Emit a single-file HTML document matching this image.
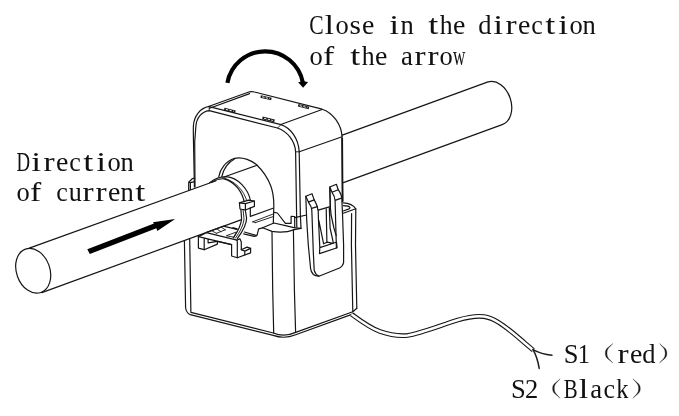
<!DOCTYPE html>
<html>
<head>
<meta charset="utf-8">
<title>CT installation</title>
<style>
html,body{margin:0;padding:0;background:#fff;}
body{width:679px;height:416px;overflow:hidden;font-family:"Liberation Serif",serif;}
svg{display:block;position:absolute;left:0;top:0;}
.l{fill:none;stroke:#151515;stroke-width:1.2;stroke-linecap:round;stroke-linejoin:round;}
.t{fill:none;stroke:#151515;stroke-width:0.9;stroke-linecap:round;stroke-linejoin:round;}
.w{fill:#fff;stroke:#151515;stroke-width:1.2;stroke-linejoin:round;}
.k{fill:#000;stroke:none;}
text{font-family:"Liberation Serif",serif;fill:#111;}
</style>
</head>
<body>
<svg width="679" height="416" viewBox="0 0 679 416">
<rect x="0" y="0" width="679" height="416" fill="#fff"/>

<!-- ===== right conductor ===== -->
<g id="rcyl">
<path class="l" d="M342.3,135.1 L488,81.9 A16,22.5 -18.4 0 1 502.2,124.6 L343.4,182.6"/>
</g>

<!-- ===== left conductor ===== -->
<g id="lcyl">
<ellipse class="l" cx="33.2" cy="270.8" rx="16.7" ry="23" transform="rotate(-19.7 33.2 270.8)"/>
<path class="l" d="M29.3,248.1 L216,180.8"/>
<path class="l" d="M224,177 L257.1,165.3"/>
<path class="l" d="M41.8,292.6 L240.9,219.9"/>
<path class="l" d="M250.3,216.4 L273,208.2"/>
</g>

<!-- ===== upper housing ===== -->
<g id="housing">
<!-- front face outer -->
<path class="l" d="M194.4,187 L193.5,142 L193.3,130 L193.4,126 C194,116 200,108 209.2,106.4"/>
<path class="l" d="M209.2,106.6 L281,124.6 C291,128 298.6,139 299.2,151.8 L300.4,216 L301,228.3"/>
<!-- front face inner (bevel) -->
<path class="l" d="M195.0,187 L194.7,142 L195.6,130 L195.9,126 C196.6,118 201.5,111.5 209.2,110.6 L277.4,128 C287.5,131.5 295,141 295.6,151.8 L296.8,227"/>
<path class="t" d="M209.2,106.8 L209.2,110.8 M295.6,151.8 L299.2,151.8 M281,124.6 L277.6,128"/>
<!-- top face -->
<path class="l" d="M209.2,106.3 L249.5,91.8 Q252,91.2 254.5,92 L322.1,109.2 C332.5,112.5 341.4,124 342.1,137 L342.5,189 L342.6,201.8"/>
<path d="M342.15,138 L342.5,189 L342.6,201.6" fill="none" stroke="#151515" stroke-width="1.8"/>
<path class="l" d="M209.6,108.3 L249.6,93.6"/>
<path class="l" d="M281.5,124.3 L322.1,109.5"/>
<path class="l" d="M299.3,151.7 L342.1,136.8"/>
<!-- slot marks on the top -->
<path d="M260.6,96.5 L271.4,99.0" fill="none" stroke="#1a1a1a" stroke-width="2.7"/><path d="M262.1,96.8 L269.9,98.7" fill="none" stroke="#fff" stroke-width="0.9" stroke-dasharray="2.4 1.3"/>
<path d="M298.2,105.3 L309.0,108.0" fill="none" stroke="#1a1a1a" stroke-width="2.7"/><path d="M299.7,105.7 L307.5,107.6" fill="none" stroke="#fff" stroke-width="0.9" stroke-dasharray="2.4 1.3"/>
<path d="M224.2,109.0 L235.4,111.7" fill="none" stroke="#1a1a1a" stroke-width="2.7"/><path d="M225.8,109.4 L233.8,111.3" fill="none" stroke="#fff" stroke-width="0.9" stroke-dasharray="2.4 1.3"/>
<path d="M262.4,117.9 L274.5,120.9" fill="none" stroke="#1a1a1a" stroke-width="2.7"/><path d="M264.1,118.3 L272.8,120.5" fill="none" stroke="#fff" stroke-width="0.9" stroke-dasharray="2.4 1.3"/>
<!-- small tab on the left -->
<path class="l" d="M188.7,190.2 L188.7,182.2 L192.5,178.5 L194.6,178.2 M188.7,182.2 L190.4,182.7 L194.6,181.7 M190.4,182.7 L190.4,189.5"/>
</g>

<!-- ===== hole ===== -->
<g id="hole">
<path class="l" d="M218.8,176.6 C220,169 225.5,161.5 234.7,158.3 C243,156.6 252,160.6 257.1,165.3 C263,171 268.5,180 270.8,186 C273,192 274,198 273.8,207 L273.3,223"/>
<path class="l" d="M221.8,176.6 C223.6,169 228,162.4 234.5,159"/>
</g>

<!-- ===== cable tie ===== -->
<g id="tie">
<path class="l" d="M209.6,182.6 C214,179.2 220,176.6 226,176.6 C238,177.4 248.3,189 250.6,201"/>
<path class="l" d="M211.8,182.3 C215.5,180 220,178.5 224,178.8 C234.5,181.6 242.5,191.5 244.6,203.6"/>
<path class="t" d="M222,177.6 C234,180 244.6,190 247.2,202.6"/>
<!-- head -->
<path class="w" d="M239.4,202.8 L248.6,200.1 L254.4,201 L254.4,206.4 L245.4,210 L240,209 Z"/>
<path class="l" d="M239.4,202.8 L245.4,203.6 L254.4,201 M245.4,203.6 L245.4,210"/>
<!-- tail -->
<path class="l" d="M240.9,209.5 L241.6,219 C241,225 237.5,232 233.3,237.8"/>
<path class="l" d="M245.2,209.3 L246.6,218 C246.6,224 243,231 237.3,238.7"/>
<path class="l" d="M250.3,207.8 L250.3,215.8"/>
<path class="t" d="M243,209.4 L244,218.5 C243.6,225 240,232 235.3,238.2"/>
</g>

<!-- ===== lower base ===== -->
<g id="base">
<!-- left edges -->
<path class="l" d="M184.4,240.6 L185.6,307.7 Q186.2,312.6 190.3,314.7 L273.3,335.4 Q284,339.4 295.7,334.8 L353.9,313.6"/>
<path class="l" d="M189.7,238.7 L190.9,312.4 L273.3,333 Q284,337.6 295.7,332.4 L352.8,311.8 L356.9,308.3"/>
<!-- front corner verticals -->
<path class="l" d="M272,231.8 L272.7,290 L273.7,333"/>
<path class="l" d="M293.4,229.6 L294.4,290 L295.6,332.4"/>
<!-- back right verticals -->
<path class="l" d="M351.6,213.5 L351.4,245 L352.8,311.6"/>
<path class="l" d="M355.8,208.8 L355.5,245 L356.8,308.3"/>
<!-- top-right rounded shelf -->
<path class="l" d="M343.3,202.9 C348.5,203.2 353.6,205.4 355.8,208.8 L343.3,213.2"/>
<path class="l" d="M343.3,205.6 C347,205.6 349.6,206.6 350,207.6 Q350,208.5 349,208.9 L343.3,211"/>
<!-- shelf around the hole -->
<path class="l" d="M273.9,212.4 L277.4,213 L285.4,223.3 L291.1,223.4 L291.1,216.4 L294.7,216.5 L294.7,227.6"/>
<path class="l" d="M294.7,217.6 L306.7,215"/>
<path class="l" d="M262.6,227.8 L273.9,223 L285.5,225.6 L293.9,227.6 L301,228.3"/>
<path class="l" d="M262.6,227.8 L272,231.4 Q284,233.6 294.5,229.6 L301,228.3"/>
<!-- slot in the shelf -->
<path class="t" d="M252.7,221.8 L272.7,214.2 M255.4,222.6 L273.2,216.6 M252.7,221.8 L255.4,222.6"/>
<!-- shelf left of the tie -->
<path class="l" d="M206.7,232.4 L223.1,226.2 L237.3,229.3"/>
<path class="t" d="M216.4,233.3 L225.3,229.8 M212.4,231.1 L216.4,233.3 M217.3,229.3 L220.9,231.6 M221.8,227.6 L225.3,229.8"/>
<path d="M232.4,227.8 L237.3,229" fill="none" stroke="#151515" stroke-width="1.7"/>
<path class="t" d="M226.7,235.6 L236.4,232 L234.2,236.9 Z"/>
<path class="l" d="M244.4,232 L256.9,235.6 M243.6,233.8 L254.2,236.4 L256.9,235.6 L258.7,228.9 L262.6,227.8"/>
<!-- hook bracket -->
<path class="w" d="M198.4,236.6 L206.4,232.6 L236.9,240.1 L239.9,238.8 L241.3,241.9 L241.3,249.8 L247,247.1 L250.6,248.4 L250.6,252.9 L237.3,257.7 L231.6,256 L231.6,244.6 L217.4,241.3 L217.4,244.1 L204.2,249.7 L198.4,248.1 Z"/>
<path class="l" d="M198.4,236.6 L231.6,244.6 M204.2,238.1 L204.2,249.7 M208.1,239.2 L208.1,242.8 L217.4,241.3 M237.3,257.7 L237.3,241.6 L236.9,240.1 M241.3,249.8 L244.8,251.1 L250.6,248.4 M244.8,251.1 L244.8,254.8"/>
</g>

<!-- ===== clip ===== -->
<g id="clip">
<!-- outer -->
<path class="w" d="M305.8,196.3 L312,193.7 L314.2,199.9 C316,203 317.6,206 317.8,209.7 L318.2,210.2 L330.3,206.6 L329.8,187 L336.4,184.3 L338.2,189.7 C340.4,193 341.6,195 341.8,198.1 L342.5,213.5 L343.6,245 L343.6,262.7 Q342.6,266.6 339.5,268 L318.9,276.2 C314,276 311.2,273 310.6,268.6 L308.3,245 L306.7,220 Z"/>
<!-- left prong details -->
<path class="l" d="M305.8,196.3 L308.4,202.1 L314.2,199.9 M308.4,202.1 C310.2,204.6 311.6,207.4 311.8,210 L312,215 L313.3,252 L314.2,270.3 Q315.5,274.6 318.9,276.2 M311.6,208.4 L317.4,206.7"/>
<!-- right prong details -->
<path class="l" d="M329.8,187 L332,192.3 L338.2,189.7 M332,192.3 C334,195 335,197.6 335.1,200.8 L335.6,220 L336.4,247.9 M335.1,200.4 L341.4,198.1 M329.8,187 L330.3,206.6"/>
<!-- window -->
<path class="l" d="M318.2,210.2 L318.4,218 L319.8,247.4 L319.5,253.6 L337.1,247.7 L336.5,242.2 M319.8,247.6 L336.3,242.2 M318.8,220.3 L323.6,243.8 L327,242.2 L333.3,243.3 L336.2,242.2"/>
<path class="l" d="M326.2,208.8 L326.9,242.1 M329.3,207.9 L330.1,228 L333.3,242.7 M330.3,206.6 L331.1,215 L333.9,228 L336.2,235.7"/>
</g>

<!-- ===== wire ===== -->
<g id="wire">
<path d="M351.5,314.2 C358,319 370,328 380,331.5 C390,335 399,336.2 407.6,335.4 C420,333.6 440,325.6 457.8,320 C468,317 477,315.6 484,316.6 C494,318 503,325 512,332.2 C520,338.7 527,345 533.3,350.2" fill="none" stroke="#151515" stroke-width="4.7" stroke-linecap="butt"/>
<path d="M351.5,314.2 C358,319 370,328 380,331.5 C390,335 399,336.2 407.6,335.4 C420,333.6 440,325.6 457.8,320 C468,317 477,315.6 484,316.6 C494,318 503,325 512,332.2 C520,338.7 527,345 533.3,350.2" fill="none" stroke="#fff" stroke-width="2.5" stroke-linecap="butt"/>
<path d="M533,349.6 C538,352.4 545,354.6 552,355.2" fill="none" stroke="#1c1c1c" stroke-width="1.5" stroke-linecap="round"/>
<path d="M533,349.6 C535.6,354 538,361 539.2,368.4" fill="none" stroke="#1c1c1c" stroke-width="1.5" stroke-linecap="round"/>
</g>

<!-- ===== arrows ===== -->
<g id="arrows">
<path d="M227.4,82.8 A38.35,38.35 0 0 1 302.8,82.4" fill="none" stroke="#000" stroke-width="4.2"/>
<path class="k" d="M303.1,87.8 L298.1,82.3 L303,81.2 L308.1,81.9 Z"/>
<path class="k" d="M87.3,249.3 L154,223.5 L152.9,222.2 L175.2,219 L157.3,230.9 L156.4,228.3 L89.8,254 Z"/>
</g>

<!-- ===== labels ===== -->
<!--LS-->
<g id="labels" font-size="26.5" style="text-anchor:start" opacity="0.999">
<text transform="translate(309.15,34.0) scale(0.815,1)">C</text>
<text transform="translate(324.45,34.0) scale(1.302,1)">l</text>
<text transform="translate(335.55,34.0) scale(1.000,1)">o</text>
<text transform="translate(349.38,34.0) scale(1.108,1)">s</text>
<text transform="translate(361.95,34.0) scale(1.051,1)">e</text>
<text transform="translate(389.23,34.0) scale(1.344,1)">i</text>
<text transform="translate(400.45,34.0) scale(1.000,1)">n</text>
<text transform="translate(428.13,34.0) scale(1.371,1)">t</text>
<text transform="translate(439.86,34.0) scale(0.969,1)">h</text>
<text transform="translate(452.95,34.0) scale(1.051,1)">e</text>
<text transform="translate(478.30,34.0) scale(1.000,1)">d</text>
<text transform="translate(493.23,34.0) scale(1.344,1)">i</text>
<text transform="translate(505.47,34.0) scale(1.259,1)">r</text>
<text transform="translate(517.95,34.0) scale(1.051,1)">e</text>
<text transform="translate(531.32,34.0) scale(0.980,1)">c</text>
<text transform="translate(545.13,34.0) scale(1.371,1)">t</text>
<text transform="translate(558.23,34.0) scale(1.344,1)">i</text>
<text transform="translate(569.55,34.0) scale(1.000,1)">o</text>
<text transform="translate(582.45,34.0) scale(1.000,1)">n</text>
<text transform="translate(309.55,65.1) scale(1.000,1)">o</text>
<text transform="translate(323.08,65.1) scale(1.275,1)">f</text>
<text transform="translate(350.13,65.1) scale(1.371,1)">t</text>
<text transform="translate(361.86,65.1) scale(0.969,1)">h</text>
<text transform="translate(374.95,65.1) scale(1.051,1)">e</text>
<text transform="translate(400.99,65.1) scale(1.010,1)">a</text>
<text transform="translate(414.47,65.1) scale(1.259,1)">r</text>
<text transform="translate(427.47,65.1) scale(1.259,1)">r</text>
<text transform="translate(439.55,65.1) scale(1.000,1)">o</text>
<text transform="translate(453.05,65.1) scale(0.647,1)">w</text>
<text transform="translate(16.48,171.3) scale(0.711,1)">D</text>
<text transform="translate(31.23,171.3) scale(1.344,1)">i</text>
<text transform="translate(43.47,171.3) scale(1.259,1)">r</text>
<text transform="translate(55.95,171.3) scale(1.051,1)">e</text>
<text transform="translate(69.32,171.3) scale(0.980,1)">c</text>
<text transform="translate(83.13,171.3) scale(1.371,1)">t</text>
<text transform="translate(96.23,171.3) scale(1.344,1)">i</text>
<text transform="translate(107.55,171.3) scale(1.000,1)">o</text>
<text transform="translate(120.45,171.3) scale(1.000,1)">n</text>
<text transform="translate(16.55,200.8) scale(1.000,1)">o</text>
<text transform="translate(30.08,200.8) scale(1.275,1)">f</text>
<text transform="translate(56.32,200.8) scale(0.980,1)">c</text>
<text transform="translate(68.75,200.8) scale(0.984,1)">u</text>
<text transform="translate(82.47,200.8) scale(1.259,1)">r</text>
<text transform="translate(95.47,200.8) scale(1.259,1)">r</text>
<text transform="translate(107.95,200.8) scale(1.051,1)">e</text>
<text transform="translate(120.45,200.8) scale(1.000,1)">n</text>
<text transform="translate(135.13,200.8) scale(1.371,1)">t</text>
<text transform="translate(563.75,362.7) scale(1.000,1)">S</text>
<text transform="translate(577.80,362.7) scale(0.915,1)">1</text>
<text transform="translate(617.47,362.7) scale(1.259,1)">r</text>
<text transform="translate(629.95,362.7) scale(1.051,1)">e</text>
<text transform="translate(642.30,362.7) scale(1.000,1)">d</text>
<text transform="translate(511.05,398.0) scale(1.000,1)">S</text>
<text transform="translate(525.00,398.0) scale(1.000,1)">2</text>
<text transform="translate(563.72,398.0) scale(0.788,1)">B</text>
<text transform="translate(578.75,398.0) scale(1.302,1)">l</text>
<text transform="translate(590.29,398.0) scale(1.010,1)">a</text>
<text transform="translate(603.62,398.0) scale(0.980,1)">c</text>
<text transform="translate(616.14,398.0) scale(0.922,1)">k</text>
</g>
<!--LE-->
<g id="parens" fill="#1a1a1a" stroke="#1a1a1a" stroke-width="0.3" stroke-linejoin="round">
<path d="M612.8,343.5 C609.0,347.4 605.3,348.0 605.3,353.2 C605.3,358.5 609.0,359.1 612.8,363.0 C609.9,359.1 607.0,358.5 607.0,353.2 C607.0,348.0 609.9,347.4 612.8,343.5 Z"/>
<path d="M659.6,343.5 C663.2,347.4 666.9,348.0 666.9,353.2 C666.9,358.5 663.2,359.1 659.6,363.0 C662.4,359.1 665.2,358.5 665.2,353.2 C665.2,348.0 662.4,347.4 659.6,343.5 Z"/>
<path d="M560.1,378.8 C556.4,382.7 552.6,383.3 552.6,388.6 C552.6,393.8 556.4,394.4 560.1,398.3 C557.2,394.4 554.3,393.8 554.3,388.6 C554.3,383.3 557.2,382.7 560.1,378.8 Z"/>
<path d="M632.9,378.8 C636.6,382.7 640.3,383.3 640.3,388.6 C640.3,393.8 636.6,394.4 632.9,398.3 C635.8,394.4 638.6,393.8 638.6,388.6 C638.6,383.3 635.8,382.7 632.9,378.8 Z"/>
</g>
</svg>
</body>
</html>
